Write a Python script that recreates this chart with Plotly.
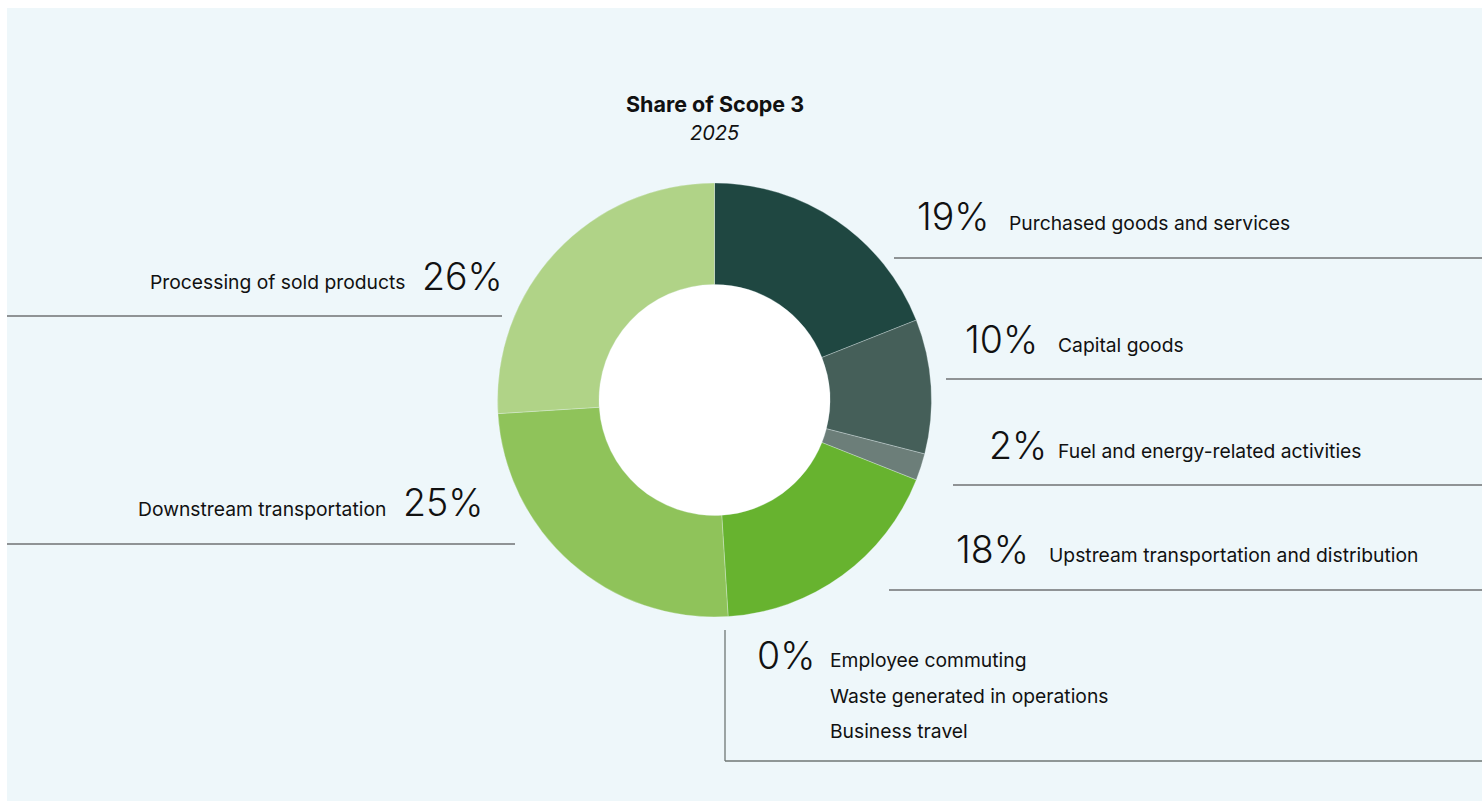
import plotly.graph_objects as go

# ---- data -------------------------------------------------------------
categories = [
    "Purchased goods and services",
    "Capital goods",
    "Fuel and energy-related activities",
    "Upstream transportation and distribution",
    "Downstream transportation",
    "Processing of sold products",
]
shares = [19, 10, 2, 18, 25, 26]
slice_colors = ["#1F4741", "#455F59", "#6C7E79", "#67B32F", "#8FC35A", "#B0D387"]

zero_categories = ["Employee commuting", "Waste generated in operations", "Business travel"]
zero_share = 0

title_text = "Share of Scope 3"
subtitle_text = "2025"

# ---- canvas -----------------------------------------------------------
W, H = 1482, 802
BG = "#EEF7FA"
TEXT = "#111111"
LINE = "#303030"
FONT = "Inter"
PAD = 2  # annotation box padding compensation


def fx(x):
    return x / W


def fy(y):
    return 1 - y / H


# donut geometry (pixels)
cx, cy, r_out, r_in = 714.5, 400, 217, 115.5

fig = go.Figure()
fig.add_trace(
    go.Pie(
        labels=categories,
        values=shares,
        sort=False,
        direction="clockwise",
        rotation=0,
        hole=r_in / r_out,
        marker=dict(colors=slice_colors, line=dict(color=BG, width=0.3)),
        textinfo="none",
        hoverinfo="label+percent",
        showlegend=False,
        domain=dict(
            x=[fx(cx - r_out), fx(cx + r_out)],
            y=[fy(cy + r_out), fy(cy - r_out)],
        ),
    )
)

shapes = [
    dict(type="rect", xref="paper", yref="paper", x0=fx(7), x1=fx(W), y0=fy(801), y1=fy(8),
         fillcolor=BG, line=dict(width=0), layer="below"),
    # white centre of the donut
    dict(type="circle", xref="paper", yref="paper",
         x0=fx(cx - r_in - 1), x1=fx(cx + r_in + 1), y0=fy(cy + r_in + 1), y1=fy(cy - r_in - 1),
         fillcolor="white", line=dict(width=0), layer="below"),
]
annotations = []


def hline(x0, x1, y, color=LINE, width=1.2):
    shapes.append(dict(type="line", xref="paper", yref="paper", x0=fx(x0), x1=fx(x1),
                       y0=fy(y), y1=fy(y), line=dict(color=color, width=width)))


def text(x, y, s, size, anchor="left", weight=400, style="normal"):
    if anchor == "left":
        x -= PAD
    elif anchor == "right":
        x += PAD
    annotations.append(dict(xref="paper", yref="paper", x=fx(x), y=fy(y), text=s,
                            showarrow=False, xanchor=anchor, yanchor="middle",
                            font=dict(family=FONT, size=size, color=TEXT, weight=weight, style=style)))


PCT_SIZE = 37.5
LBL_SIZE = 19.3

# right-hand callouts: pct x, label x, pct y, label y, line x start, line y
right_layout = {
    "Purchased goods and services": (917, 1009, 216, 223, 894, 258),
    "Capital goods": (965, 1058, 339, 345, 946, 379),
    "Fuel and energy-related activities": (989, 1058, 445, 451, 953, 485),
    "Upstream transportation and distribution": (956, 1049, 549, 555, 889, 590),
}
# left-hand callouts: label right x, pct x, pct y, label y, line x end, line y
left_layout = {
    "Processing of sold products": (405, 422, 276, 282, 502, 316),
    "Downstream transportation": (386, 403, 503, 509, 515, 544),
}

for cat, val in zip(categories, shares):
    if cat in right_layout:
        px_, lx, py_, ly, lx0, liney = right_layout[cat]
        text(px_, py_, f"{val}%", PCT_SIZE, weight=300)
        text(lx, ly, cat, LBL_SIZE)
        hline(lx0, W, liney)
    else:
        lr, px_, py_, ly, lx1, liney = left_layout[cat]
        text(px_, py_, f"{val}%", PCT_SIZE, weight=300)
        text(lr, ly, cat, LBL_SIZE, anchor="right")
        hline(7, lx1, liney)

# grouped 0% categories with their bracket
text(757, 655, f"{zero_share}%", PCT_SIZE, weight=300)
for i, cat in enumerate(zero_categories):
    text(830, 660 + i * 35.5, cat, LBL_SIZE)
shapes.append(dict(type="line", xref="paper", yref="paper", x0=fx(725), x1=fx(725),
                   y0=fy(630), y1=fy(761), line=dict(color="#6F7775", width=1.3)))
hline(725, W, 761, color="#6F7775", width=1.5)

# heading
text(cx, 104, f"<b>{title_text}</b>", 21.5, anchor="center", weight=900)
text(cx, 133, f"<i>{subtitle_text}</i>", 20, anchor="center", style="italic")

fig.update_layout(
    width=W,
    height=H,
    margin=dict(l=0, r=0, t=0, b=0),
    paper_bgcolor="white",
    plot_bgcolor="white",
    shapes=shapes,
    annotations=annotations,
    showlegend=False,
)

fig.write_html("out.html")
